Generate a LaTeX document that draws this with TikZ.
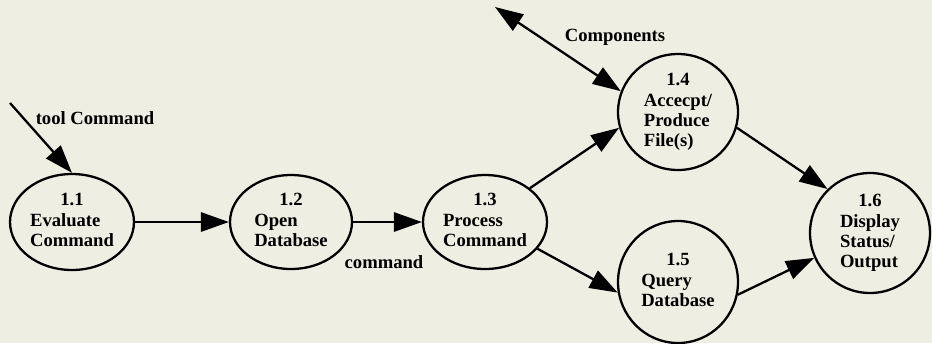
\documentclass[tikz,border=0pt]{standalone}
\usepackage{fontspec}
\setmainfont{Liberation Serif}
\usepackage{tikz}
\usetikzlibrary{shapes.geometric,arrows.meta}
\definecolor{paper}{RGB}{239,238,226}
\newcommand{\bubtext}[2]{\begin{tabular}{@{}l@{}}\multicolumn{1}{@{}c@{}}{#1}\\[1pt]#2\end{tabular}}

\begin{document}
\begin{tikzpicture}[x=0.02cm, y=-0.02cm, font=\bfseries\fontsize{10.6}{11.2}\selectfont,
  proc/.style 2 args={draw, ellipse, line width=1.3pt, inner sep=0pt, minimum width=#1, minimum height=#2},
  flow/.style={line width=1.3pt, -{Triangle[length=16pt,width=11pt]}}]
\fill[paper] (0,0) rectangle (932,343);
\useasboundingbox (0,0) rectangle (932,343);
% processes
\node[proc={2.48cm}{1.92cm}] (p11) at (72,222) {\bubtext{1.1}{Evaluate\\Command}};
\node[proc={2.44cm}{1.88cm}] (p12) at (291,222) {\bubtext{1.2}{Open\\Database}};
\node[proc={2.48cm}{1.88cm}] (p13) at (485,222) {\bubtext{1.3}{Process\\Command}};
\node[proc={2.40cm}{2.32cm}] (p14) at (678,112) {\bubtext{1.4}{Accecpt/\\Produce\\File(s)}};
\node[proc={2.40cm}{2.44cm}] (p15) at (678,282) {\bubtext{1.5}{Query\\Database}};
\node[proc={2.40cm}{2.40cm}] (p16) at (870,233) {\bubtext{1.6}{Display\\Status/\\Output}};
% free ends
\coordinate (tc) at (10,103);
\coordinate (comp) at (495,7);
% flows
\draw[flow] (tc) -- (p11.north);
\draw[flow] (p11) -- (p12);
\draw[flow] (p12) -- (p13);
\draw[flow] (p13.37) -- (p14.195);
\draw[flow] (p13.333) -- (p15.190);
\draw[flow] (p14.345) -- (p16.134);
\draw[flow] (p15.348) -- (p16.204);
\draw[line width=1.3pt, {Triangle[length=16pt,width=11pt]}-{Triangle[length=16pt,width=11pt]}] (comp) -- (p14.160);
% labels
\node (lbltool) at (95,118) {tool Command};
\node (lblcmd) at (384,262) {command};
\node (lblcomp) at (615,37) {Components};
\end{tikzpicture}
\end{document}
